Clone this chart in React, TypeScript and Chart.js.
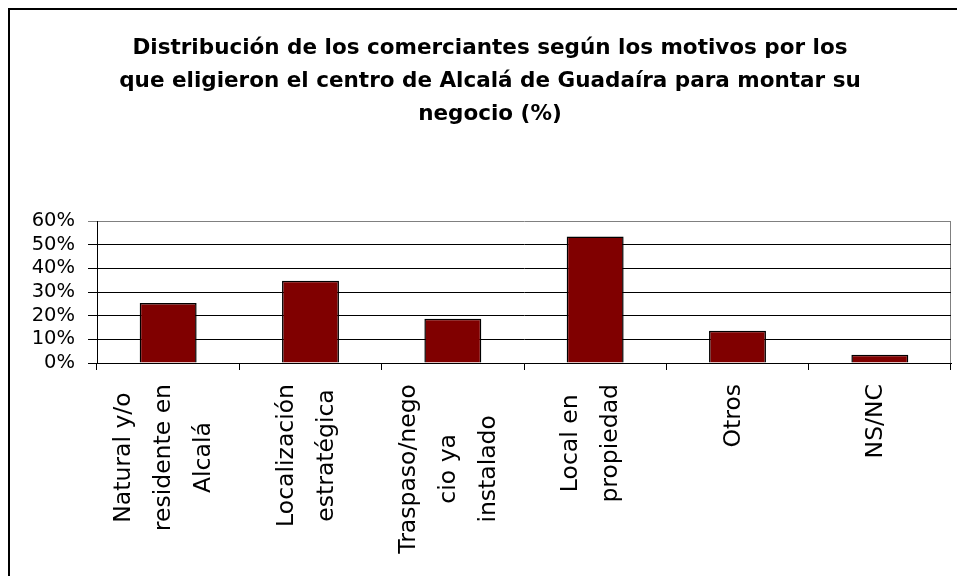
import React, { useEffect, useRef } from "react";
import { Chart, registerables } from "chart.js";

Chart.register(...registerables);

const titleLines = [
  "Distribución de los comerciantes según los motivos por los",
  "que eligieron el centro de Alcalá de Guadaíra para montar su",
  "negocio (%)",
];

const categories: string[][] = [
  ["Natural y/o", "residente en", "Alcalá"],
  ["Localización", "estratégica"],
  ["Traspaso/nego", "cio ya", "instalado"],
  ["Local en", "propiedad"],
  ["Otros"],
  ["NS/NC"],
];

const values = [25.4, 34.8, 18.7, 53.4, 13.6, 3.5];

const yTicks = [0, 10, 20, 30, 40, 50, 60];

const FONT = "'DejaVu Sans', sans-serif";

const xLabelPlugin = {
  id: "xLabelPlugin",
  afterDraw(chart: any) {
    const ctx = chart.ctx as CanvasRenderingContext2D;
    const xs = chart.scales.x;
    const area = chart.chartArea;
    const labels = chart.data.labels as string[][];
    ctx.save();
    ctx.font = `23.5px ${FONT}`;
    ctx.fillStyle = "#000";
    ctx.textAlign = "center";
    ctx.textBaseline = "middle";
    const lineGap = 40;
    labels.forEach((lines, i) => {
      const cx = xs.getPixelForValue(i) - 4;
      let w = 0;
      lines.forEach((l) => (w = Math.max(w, ctx.measureText(l).width)));
      const cy = area.bottom + 21 + w / 2;
      lines.forEach((l, j) => {
        const lx = cx + (j - (lines.length - 1) / 2) * lineGap;
        ctx.save();
        ctx.translate(lx, cy);
        ctx.rotate(-Math.PI / 2);
        ctx.fillText(l, 0, 0);
        ctx.restore();
      });
    });
    ctx.restore();
  },
};

export default function App() {
  const ref = useRef<HTMLCanvasElement | null>(null);
  useEffect(() => {
    if (!ref.current) return;
    const chart = new Chart(ref.current, {
      type: "bar",
      data: {
        labels: categories,
        datasets: [
          {
            data: values,
            backgroundColor: "#800000",
            borderColor: "#000000",
            borderWidth: 1.5,
            categoryPercentage: 1,
            barPercentage: 0.4,
          },
        ],
      },
      options: {
        animation: false,
        responsive: false,
        devicePixelRatio: 1,
        layout: { padding: { left: 19, right: 19, top: 0, bottom: 0 } },
        plugins: {
          legend: { display: false },
          tooltip: { enabled: false },
          title: {
            display: true,
            text: titleLines,
            color: "#000",
            font: { family: FONT, size: 21.5, weight: "bold", lineHeight: 33 / 21.5 },
            padding: { top: 22, bottom: 90 },
          },
        },
        scales: {
          x: {
            type: "category",
            offset: true,
            grid: {
              offset: true,
              drawOnChartArea: true,
              drawTicks: true,
              tickLength: 7,
              color: (c: any) => (c.type === "tick" ? "rgba(0,0,0,0)" : "#808080"),
              tickColor: "#000",
              lineWidth: 1,
            },
            border: { display: true, color: "#000", width: 1 },
            ticks: { display: false },
            afterFit: (s: any) => {
              s.height = 247;
            },
          },
          y: {
            min: 0,
            max: 60,
            afterBuildTicks: (s: any) => {
              s.ticks = yTicks.map((v) => ({ value: v }));
            },
            grid: {
              color: (c: any) => (c.tick && c.tick.value === 60 ? "#808080" : "#000"),
              tickLength: 9,
              lineWidth: 1,
            },
            border: { display: true, color: "#000", width: 1 },
            ticks: {
              color: "#000",
              padding: 13,
              autoSkip: false,
              font: { family: FONT, size: 19.5, lineHeight: 1 },
              callback: (v: any) => `${v}%`,
            },
            afterFit: (s: any) => {
              s.width = 68;
            },
          },
        },
      },
      plugins: [xLabelPlugin],
    });
    return () => chart.destroy();
  }, []);

  return (
    <div
      style={{
        position: "fixed",
        left: 0,
        top: 0,
        width: 957,
        height: 576,
        overflow: "hidden",
        background: "#fff",
      }}
    >
      <div
        style={{
          position: "absolute",
          left: 8,
          top: 8,
          border: "2px solid #000",
          width: 960,
          height: 600,
          background: "#fff",
        }}
      >
        <canvas ref={ref} width={960} height={600} style={{ display: "block" }} />
      </div>
    </div>
  );
}
